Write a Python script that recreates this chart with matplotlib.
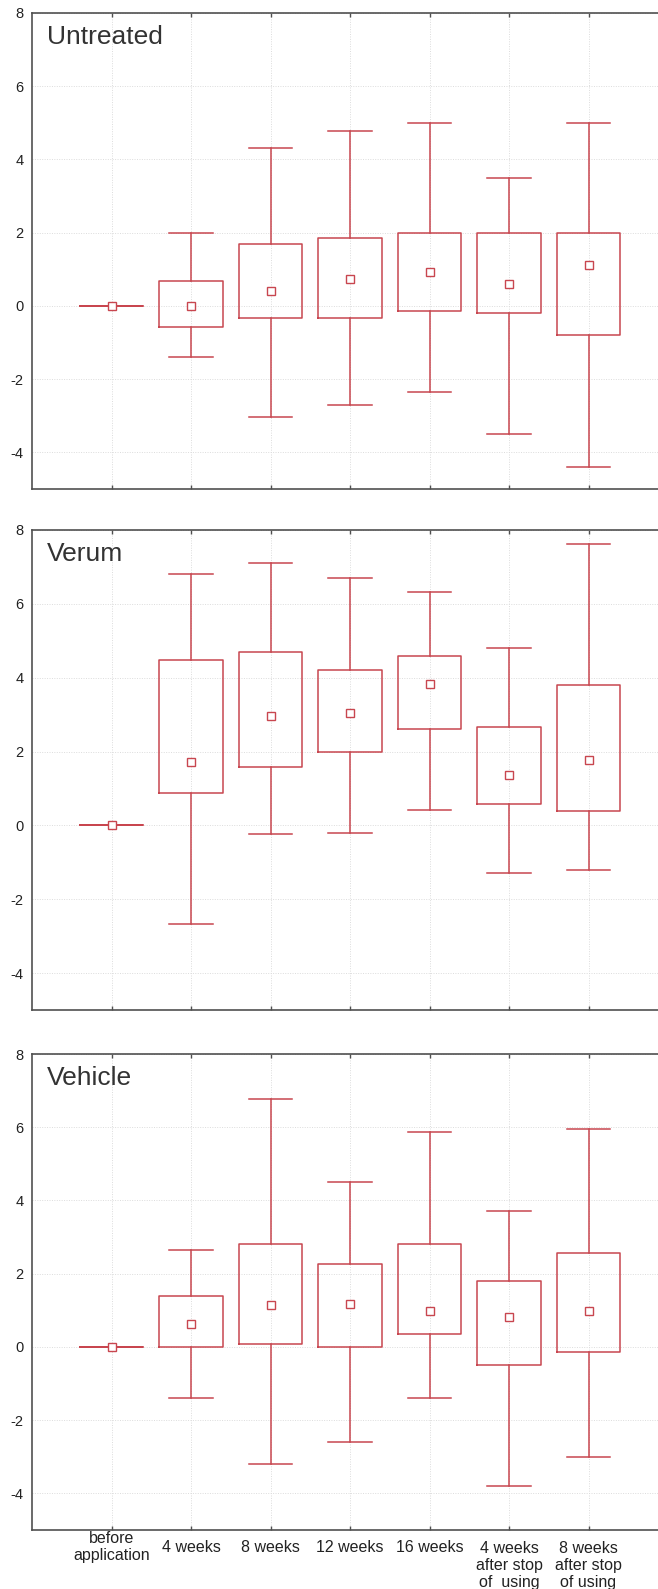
import matplotlib
matplotlib.use("Agg")
import matplotlib.pyplot as plt
from matplotlib.transforms import blended_transform_factory

plt.rcParams['font.family'] = ['Liberation Sans', 'DejaVu Sans']

categories = ["before\napplication", "4 weeks", "8 weeks", "12 weeks", "16 weeks",
              "4 weeks\nafter stop\nof  using", "8 weeks\nafter stop\nof using"]
label_lines_offset = [0, 0, 0, 0, 0, 1, 1]

panel_titles = ["Untreated", "Verum", "Vehicle"]

untreated_whishi = [0, 2.00, 4.30, 4.79, 5.00, 3.50, 5.00]
untreated_q3     = [0, 0.69, 1.68, 1.85, 2.00, 2.00, 2.00]
untreated_mean   = [0, 0.00, 0.42, 0.73, 0.92, 0.60, 1.12]
untreated_q1     = [0, -0.57, -0.34, -0.34, -0.14, -0.20, -0.80]
untreated_whislo = [0, -1.40, -3.04, -2.70, -2.36, -3.50, -4.40]

verum_whishi = [0, 6.81, 7.11, 6.71, 6.33, 4.80, 7.61]
verum_q3     = [0, 4.47, 4.70, 4.22, 4.60, 2.66, 3.79]
verum_mean   = [0, 1.72, 2.97, 3.05, 3.84, 1.36, 1.76]
verum_q1     = [0, 0.87, 1.58, 1.98, 2.62, 0.58, 0.38]
verum_whislo = [0, -2.68, -0.24, -0.20, 0.41, -1.28, -1.20]

vehicle_whishi = [0, 2.65, 6.77, 4.51, 5.87, 3.72, 5.94]
vehicle_q3     = [0, 1.40, 2.80, 2.27, 2.80, 1.80, 2.56]
vehicle_mean   = [0, 0.63, 1.15, 1.18, 0.98, 0.83, 0.98]
vehicle_q1     = [0, 0.00, 0.09, 0.00, 0.34, -0.50, -0.15]
vehicle_whislo = [0, -1.39, -3.20, -2.60, -1.39, -3.80, -3.00]

y_ticks = [-4, -2, 0, 2, 4, 6, 8]

panels = [
    (untreated_whislo, untreated_q1, untreated_mean, untreated_q3, untreated_whishi),
    (verum_whislo, verum_q1, verum_mean, verum_q3, verum_whishi),
    (vehicle_whislo, vehicle_q1, vehicle_mean, vehicle_q3, vehicle_whishi),
]

W, H = 658, 1589
fig = plt.figure(figsize=(W / 100, H / 100), dpi=100)

panel_px = [(13, 489), (530, 1010), (1054, 1530)]
left_px = 32
red = '#c8464f'
spine_col = '#505050'

for i, ((top, bot), data, title) in enumerate(zip(panel_px, panels, panel_titles)):
    ax = fig.add_axes([left_px / W, (H - bot) / H, (W - left_px) / W, (bot - top) / H])
    wlo, q1, mn, q3, whi = data
    stats = []
    for k in range(len(categories)):
        stats.append(dict(whislo=wlo[k], q1=q1[k], med=mn[k], mean=mn[k],
                          q3=q3[k], whishi=whi[k], fliers=[]))
    ax.bxp(stats, positions=list(range(len(categories))), widths=0.8, capwidths=0.55,
           showmeans=True, showfliers=False,
           boxprops=dict(color=red, linewidth=1.1),
           whiskerprops=dict(color=red, linewidth=1.1),
           capprops=dict(color=red, linewidth=1.1),
           medianprops=dict(visible=False),
           meanprops=dict(marker='s', markersize=5.5, markerfacecolor='white',
                          markeredgecolor=red, markeredgewidth=1.0, linestyle='none'),
           manage_ticks=False, zorder=3)
    ax.set_xlim(-1, -1 + (W - left_px) / 79.5)
    ax.set_ylim(-5, 8)
    ax.set_yticks(y_ticks)
    ax.set_yticklabels([str(v) for v in y_ticks], fontsize=10.5, color='#222222')
    ax.set_xticks(list(range(len(categories))))
    ax.set_xticklabels([])
    ax.tick_params(axis='y', length=0, pad=6)
    ax.tick_params(axis='x', direction='in', length=3, width=1, color=spine_col,
                   top=True, bottom=True)
    ax.grid(True, color='#dcdcdc', linestyle=(0, (1, 1.5)), linewidth=0.7, zorder=0)
    ax.set_axisbelow(True)
    for s in ['left', 'top', 'bottom']:
        ax.spines[s].set_color(spine_col)
        ax.spines[s].set_linewidth(1.2)
    ax.spines['right'].set_visible(False)
    ax.text(15 / (W - left_px), 1 - 12 / (bot - top), title, transform=ax.transAxes,
            fontsize=19, color='#333333', ha='left', va='top')
    if i == 2:
        tr = blended_transform_factory(ax.transData, fig.transFigure)
        for k, lab in enumerate(categories):
            yc = 1547 + 18.5 * label_lines_offset[k]
            ax.text(k, (H - yc) / H, lab, transform=tr, ha='center', va='center',
                    fontsize=11.5, color='#222222', linespacing=1.15, clip_on=False)

fig.savefig("out.png", dpi=100)
